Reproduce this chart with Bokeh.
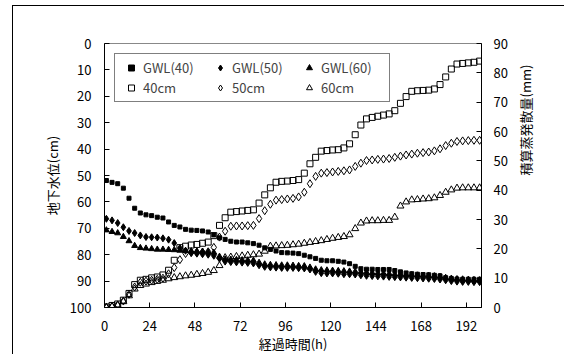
import math
from bokeh.plotting import figure
from bokeh.models import Range1d, LinearAxis, FixedTicker, Legend, LegendItem
from bokeh.embed import file_html
from bokeh.resources import INLINE

FONT = "Noto Sans CJK JP"

hours = [1, 4, 7, 10, 13, 16, 19, 22, 25, 28, 31, 34, 37, 40, 43, 46, 49, 52, 55,
         58, 61, 64, 67, 70, 73, 76, 79, 82, 85, 88, 91, 94, 97, 100, 103, 106, 109,
         112, 115, 118, 121, 124, 127, 130, 133, 136, 139, 142, 145, 148, 151, 154,
         157, 160, 163, 166, 169, 172, 175, 178, 181, 184, 187, 190, 193, 196, 199]

# groundwater level (cm, left axis)
gwl40 = [51.9, 52.6, 53.1, 54.8, 58.6, 62.4, 64.2, 64.9, 65.2, 65.8, 66.1, 67.6, 68.9, 69.5, 70.4, 70.7, 70.8,
         71.0, 71.4, 72.5, 73.6, 74.2, 74.9, 75.2, 75.2, 75.5, 75.8, 76.4, 77.4, 78.0, 78.6, 79.2, 79.3,
         79.4, 79.6, 80.2, 80.8, 81.4, 82.1, 82.3, 82.3, 82.5, 82.8, 83.4, 84.4, 85.3, 85.5, 85.5, 85.6, 85.6, 85.6,
         86.0, 86.5, 86.9, 87.2, 87.4, 87.5, 87.6, 87.8, 88.0, 88.7, 89.0, 89.2, 89.3, 89.3, 89.3, 89.3]
gwl50 = [66.4, 67.0, 68.0, 69.6, 71.0, 71.8, 72.7, 73.3, 73.4, 73.5, 73.8, 74.3, 75.6, 77.5, 78.5, 79.3, 79.6,
         79.8, 80.0, 80.4, 81.5, 82.6, 82.8, 82.9, 83.0, 83.1, 83.3, 84.0, 84.6, 84.8, 84.9, 85.0, 85.0,
         85.0, 85.1, 85.2, 85.6, 86.5, 87.0, 87.1, 87.1, 87.2, 87.4, 87.4, 87.5, 87.8, 88.0, 88.1, 88.2, 88.3, 88.4,
         88.5, 88.6, 88.7, 88.8, 88.9, 89.0, 89.1, 89.2, 89.4, 89.7, 90.0, 90.2, 90.3, 90.3, 90.4, 90.4]
gwl60 = [70.7, 71.3, 71.8, 73.2, 74.8, 76.6, 77.4, 77.6, 77.8, 78.0, 78.0, 78.1, 78.2, 78.4, 78.5, 78.6, 78.7,
         78.8, 79.0, 79.2, 80.7, 81.7, 81.8, 81.9, 82.0, 82.1, 82.2, 83.0, 83.6, 83.8, 83.9, 84.0, 84.0,
         84.1, 84.2, 84.3, 84.8, 85.5, 85.8, 85.9, 86.0, 86.1, 86.2, 86.3, 86.4, 86.6, 86.8, 86.9, 87.0, 87.1, 87.2,
         87.4, 87.5, 87.6, 87.7, 87.8, 87.9, 88.0, 88.1, 88.3, 88.7, 89.0, 89.2, 89.3, 89.4, 89.5, 89.6]

# cumulative evapotranspiration (mm, right axis)
e40 = [0.2, 0.7, 1.2, 2.5, 4.8, 7.8, 9.3, 9.6, 10.1, 10.4, 11.1, 12.7, 16.1, 20.4, 20.9, 21.3, 21.5,
       21.9, 22.3, 24.5, 28.0, 30.6, 32.5, 32.7, 32.9, 33.1, 33.3, 35.6, 38.4, 40.8, 42.7, 43.0, 43.1,
       43.3, 43.6, 45.8, 49.0, 51.2, 53.3, 53.5, 53.7, 53.8, 54.4, 55.8, 58.9, 62.2, 64.3, 64.8, 65.2, 65.6, 66.0,
       67.1, 69.6, 71.9, 73.7, 73.9, 74.0, 74.1, 74.5, 76.0, 78.6, 81.3, 83.0, 83.2, 83.4, 83.6, 84.0]
e50 = [0.1, 0.4, 0.9, 2.2, 4.5, 7.0, 8.6, 9.0, 9.3, 9.6, 10.0, 11.5, 13.6, 16.3, 18.4, 18.7, 18.8,
       18.9, 19.0, 20.5, 24.0, 26.0, 27.7, 27.8, 27.8, 27.9, 28.0, 30.3, 33.0, 35.2, 36.6, 36.8, 37.0,
       37.2, 37.7, 39.3, 42.2, 44.7, 45.8, 46.0, 46.2, 46.4, 46.6, 46.9, 48.1, 49.2, 50.1, 50.3, 50.5, 50.6, 50.8,
       51.2, 51.6, 52.0, 52.3, 52.6, 52.8, 53.0, 53.4, 54.1, 55.2, 56.0, 56.6, 56.8, 56.9, 57.0, 57.0]
e60 = [0.0, 0.3, 0.7, 2.0, 4.0, 6.3, 7.5, 8.0, 8.5, 8.9, 9.3, 9.8, 10.2, 10.5, 10.8, 11.0, 11.3,
       11.6, 12.0, 12.6, 14.3, 17.0, 17.2, 17.4, 17.6, 17.8, 18.0, 18.2, 19.2, 20.9, 21.0, 21.1, 21.2,
       21.4, 21.6, 21.9, 22.2, 22.5, 22.8, 23.2, 23.6, 23.9, 24.2, 24.8, 26.9, 28.8, 29.5, 29.6, 29.6, 29.7, 29.7,
       30.8, 34.6, 36.0, 36.7, 36.8, 37.0, 37.1, 37.4, 38.2, 39.3, 40.1, 40.7, 40.8, 40.8, 40.8, 40.8]

x_ticks = [0, 24, 48, 72, 96, 120, 144, 168, 192]
left_ticks = [0, 10, 20, 30, 40, 50, 60, 70, 80, 90, 100]
right_ticks = [0, 10, 20, 30, 40, 50, 60, 70, 80, 90]

p = figure(width=552, height=349, output_backend="svg", toolbar_location=None,
           x_range=Range1d(0, 200), y_range=Range1d(100, 0),
           min_border_left=91, min_border_right=84, min_border_top=37, min_border_bottom=48)
p.margin = (5, 0, 0, 12)
p.styles = {"border-left": "1px solid black", "border-top": "1px solid black"}
p.extra_y_ranges = {"evap": Range1d(0, 90)}
p.grid.visible = False
p.background_fill_color = "white"
p.border_fill_color = "white"
p.outline_line_color = "#888888"
p.outline_line_width = 1


def style_axis(ax, standoff):
    ax.axis_line_color = "black"
    ax.axis_line_width = 1
    ax.major_tick_line_color = "black"
    ax.major_tick_in = 5
    ax.major_tick_out = 0
    ax.minor_tick_line_color = None
    ax.major_label_text_font = FONT
    ax.major_label_text_font_size = "13px"
    ax.major_label_text_color = "black"
    ax.major_label_standoff = standoff
    ax.axis_label_text_font = FONT
    ax.axis_label_text_font_size = "13px"
    ax.axis_label_text_font_style = "normal"
    ax.axis_label_text_color = "black"


xa = p.xaxis[0]
xa.ticker = FixedTicker(ticks=x_ticks)
style_axis(xa, 13)
xa.axis_label = "経過時間(h)"
xa.axis_label_standoff = 0

ya = p.yaxis[0]
ya.ticker = FixedTicker(ticks=left_ticks)
style_axis(ya, 13)
ya.axis_label = "地下水位(cm)"
ya.axis_label_standoff = 5

ra = LinearAxis(y_range_name="evap", ticker=FixedTicker(ticks=right_ticks))
style_axis(ra, 12)
ra.axis_label = "積算蒸発散量(mm)"
ra.axis_label_standoff = 15
try:
    ra.axis_label_orientation = math.pi / 2
except Exception:
    pass
p.add_layout(ra, "right")

r1 = p.scatter(hours, gwl40, marker="square", size=4, color="black")
r2 = p.scatter(hours, gwl50, marker="diamond", size=7, color="black")
r3 = p.scatter(hours, gwl60, marker="triangle", size=6, color="black")
r4 = p.scatter(hours, e40, marker="square", size=6, fill_color=None, line_color="black",
               line_width=1, y_range_name="evap")
r5 = p.scatter(hours, e50, marker="diamond", size=8, fill_color=None, line_color="black",
               line_width=1, y_range_name="evap")
r6 = p.scatter(hours, e60, marker="triangle", size=7, fill_color=None, line_color="black",
               line_width=1, y_range_name="evap")

legend = Legend(items=[LegendItem(label="GWL(40)", renderers=[r1]),
                       LegendItem(label="GWL(50)", renderers=[r2]),
                       LegendItem(label="GWL(60)", renderers=[r3]),
                       LegendItem(label="40cm", renderers=[r4]),
                       LegendItem(label="50cm", renderers=[r5]),
                       LegendItem(label="60cm", renderers=[r6])],
                orientation="horizontal", ncols=3, location="top_left",
                margin=10, padding=4, spacing=1,
                glyph_width=24, glyph_height=15, label_height=15, label_width=64,
                label_standoff=0,
                label_text_font=FONT, label_text_font_size="13px",
                border_line_color="black", border_line_width=1,
                background_fill_color="white", background_fill_alpha=1)
p.add_layout(legend)

open("out.html", "w").write(file_html(p, INLINE))
